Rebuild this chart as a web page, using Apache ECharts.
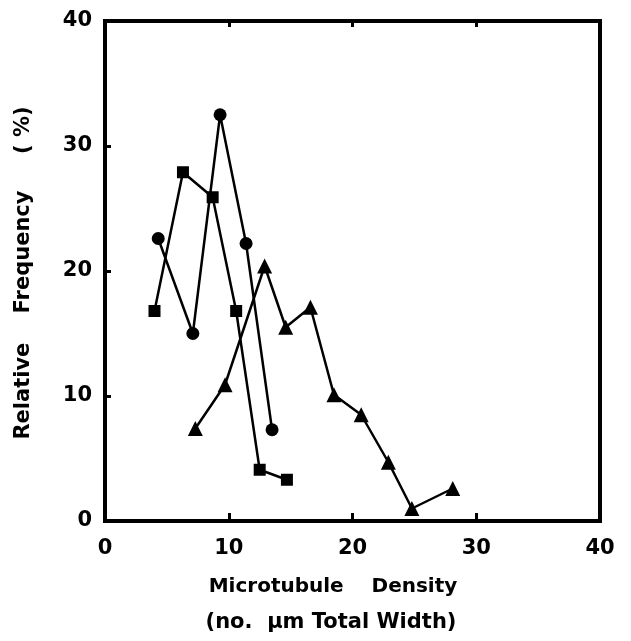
<!DOCTYPE html>
<html><head><meta charset="utf-8">
<script src="https://cdn.jsdelivr.net/npm/echarts@6/dist/echarts.min.js"></script>
<style>html,body{margin:0;padding:0;background:#fff}#c{width:631px;height:641px}</style>
</head><body><div id="c"></div>
<script>
const xTicks = [0, 10, 20, 30, 40];
const yTicks = [0, 10, 20, 30, 40];
const circleX = [4.3, 7.1, 9.3, 11.4, 13.5];
const circleY = [22.6, 15.0, 32.5, 22.2, 7.3];
const squareX = [4.0, 6.3, 8.7, 10.6, 12.5, 14.7];
const squareY = [16.8, 27.9, 25.9, 16.8, 4.1, 3.3];
const triX = [7.3, 9.7, 12.9, 14.6, 16.6, 18.5, 20.7, 22.9, 24.8, 28.1];
const triY = [7.4, 10.9, 20.4, 15.5, 17.1, 10.1, 8.5, 4.7, 1.0, 2.6];
const xTitle1 = 'Microtubule    Density';
const xTitle2 = '(no.  µm Total Width)';
const yTitle = 'Relative    Frequency     ( %)';

const zip = (a, b) => a.map((v, i) => [v, b[i]]);
const font = '"DejaVu Sans", Arial, sans-serif';
const lbl = {color: '#000', fontSize: 21, fontWeight: 'bold', fontFamily: font};
const chart = echarts.init(document.getElementById('c'), null, {renderer: 'canvas'});
const mk = (data, symbol, size) => ({
  type: 'line', data, symbol, symbolSize: size, showSymbol: true,
  lineStyle: {color: '#000', width: 2.5}, itemStyle: {color: '#000', borderWidth: 0},
  animation: false, z: 3
});
chart.setOption({
  animation: false,
  backgroundColor: '#fff',
  grid: {left: 105, right: 31, top: 21, bottom: 120, show: true, borderColor: '#000', borderWidth: 4, backgroundColor: 'transparent'},
  xAxis: [
    {type: 'value', min: xTicks[0], max: xTicks[xTicks.length-1], interval: 10, position: 'bottom',
     axisLine: {show: false}, splitLine: {show: false},
     axisTick: {show: true, inside: true, length: 8, lineStyle: {color: '#000', width: 3}},
     axisLabel: Object.assign({margin: 17}, lbl)},
    {type: 'value', min: 0, max: 40, interval: 10, position: 'top',
     axisLine: {show: false}, splitLine: {show: false}, axisLabel: {show: false},
     axisTick: {show: true, inside: true, length: 6, lineStyle: {color: '#000', width: 3}}}
  ],
  yAxis: [
    {type: 'value', min: yTicks[0], max: yTicks[yTicks.length-1], interval: 10,
     axisLine: {show: false}, splitLine: {show: false},
     axisTick: {show: true, inside: true, length: 6, lineStyle: {color: '#000', width: 3}},
     axisLabel: Object.assign({margin: 13}, lbl)}
  ],
  graphic: [
    {type: 'text', x: 333, y: 587, style: {text: xTitle1, align: 'center', verticalAlign: 'middle', fill: '#000', font: 'bold 20px ' + font}},
    {type: 'text', x: 331, y: 623, style: {text: xTitle2, align: 'center', verticalAlign: 'middle', fill: '#000', font: 'bold 21px ' + font}},
    {type: 'text', x: 24, y: 273, rotation: Math.PI / 2, style: {text: yTitle, align: 'center', verticalAlign: 'middle', fill: '#000', font: 'bold 21px ' + font}}
  ],
  series: [
    mk(zip(circleX, circleY), 'circle', 13),
    mk(zip(squareX, squareY), 'rect', 12),
    mk(zip(triX, triY), 'triangle', 15)
  ]
});
</script></body></html>
